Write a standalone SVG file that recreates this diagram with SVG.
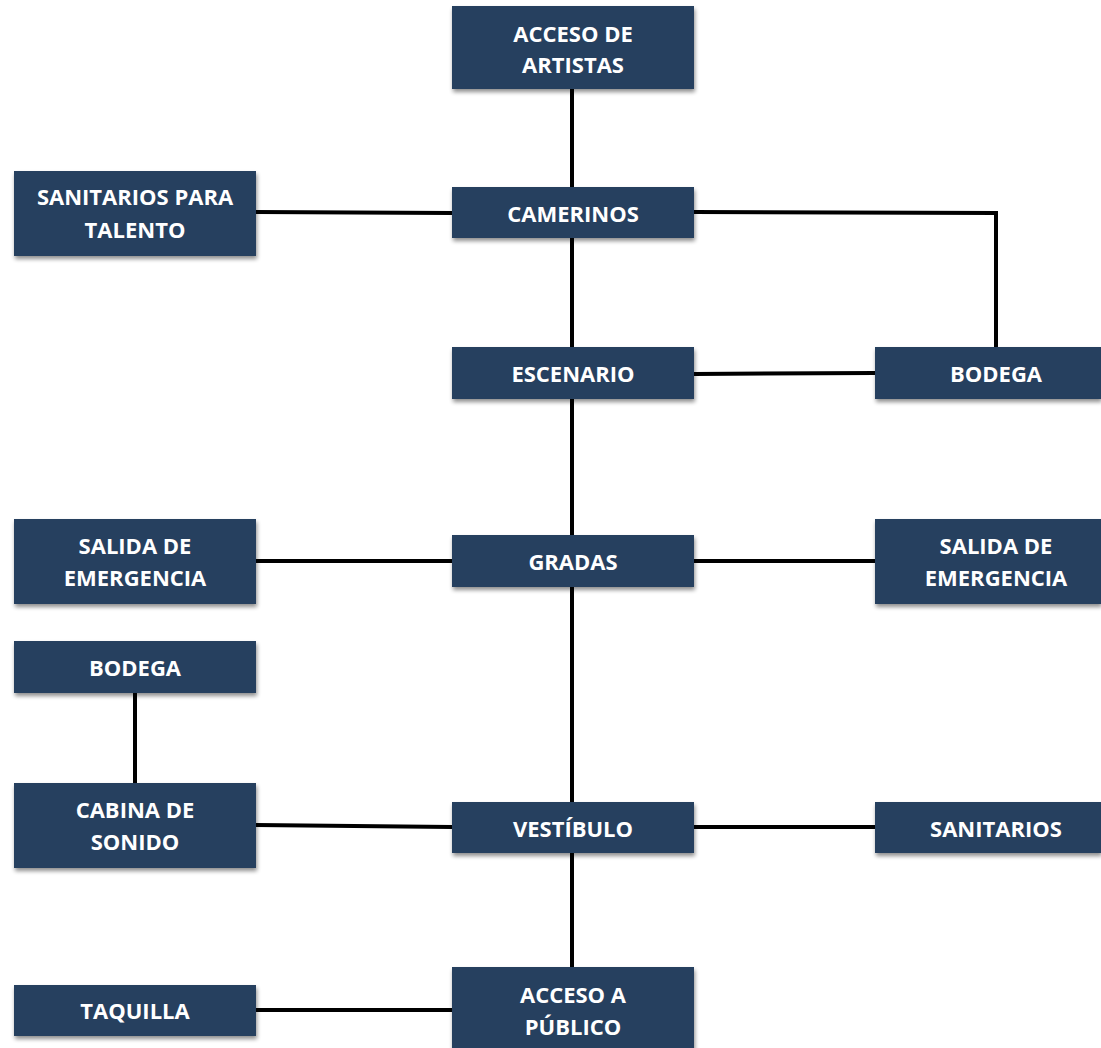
<svg xmlns="http://www.w3.org/2000/svg" width="1101" height="1048" viewBox="0 0 1101 1048">
<defs>
<filter id="sh" x="-10%" y="-20%" width="125%" height="150%">
<feGaussianBlur in="SourceAlpha" stdDeviation="2"/>
<feOffset dx="1" dy="3" result="b"/>
<feComponentTransfer><feFuncA type="linear" slope="0.45"/></feComponentTransfer>
<feMerge><feMergeNode/><feMergeNode in="SourceGraphic"/></feMerge>
</filter>
</defs>
<style>
.box{fill:#253f5f;filter:url(#sh)}
.t{font-family:"Open Sans","Liberation Sans",sans-serif;font-weight:bold;font-size:22px;fill:#ffffff;text-anchor:middle}
.c{stroke:#000;stroke-width:4;fill:none}
</style>
<rect width="1101" height="1048" fill="#fff"/>
<g id="connectors">
<line class="c" x1="572" y1="89" x2="572" y2="187"/>
<line class="c" x1="572" y1="238" x2="572" y2="347"/>
<line class="c" x1="572" y1="399" x2="572" y2="535"/>
<line class="c" x1="572" y1="587" x2="572" y2="802"/>
<line class="c" x1="572" y1="853" x2="572" y2="967"/>
<line class="c" x1="256" y1="212" x2="452" y2="213"/>
<polyline class="c" points="694,212 996,213 996,347"/>
<line class="c" x1="694" y1="374" x2="875" y2="373"/>
<line class="c" x1="256" y1="561" x2="452" y2="561"/>
<line class="c" x1="694" y1="561" x2="875" y2="561"/>
<line class="c" x1="135" y1="693" x2="135" y2="783"/>
<line class="c" x1="256" y1="825" x2="452" y2="827"/>
<line class="c" x1="694" y1="827" x2="875" y2="827"/>
<line class="c" x1="256" y1="1010" x2="452" y2="1010"/>
</g>
<g id="acceso-artistas"><rect class="box" x="452" y="6" width="242" height="83"/><text class="t" x="573" y="42">ACCESO DE</text><text class="t" x="573" y="73">ARTISTAS</text></g>
<g id="camerinos"><rect class="box" x="452" y="187" width="242" height="51"/><text class="t" x="573" y="222">CAMERINOS</text></g>
<g id="sanitarios-talento"><rect class="box" x="14" y="171" width="242" height="85"/><text class="t" x="135" y="205">SANITARIOS PARA</text><text class="t" x="135" y="238">TALENTO</text></g>
<g id="escenario"><rect class="box" x="452" y="347" width="242" height="52"/><text class="t" x="573" y="382">ESCENARIO</text></g>
<g id="bodega-1"><rect class="box" x="875" y="347" width="226" height="52"/><text class="t" x="996" y="382">BODEGA</text></g>
<g id="gradas"><rect class="box" x="452" y="535" width="242" height="52"/><text class="t" x="573" y="570">GRADAS</text></g>
<g id="salida-izq"><rect class="box" x="14" y="519" width="242" height="85"/><text class="t" x="135" y="554">SALIDA DE</text><text class="t" x="135" y="586">EMERGENCIA</text></g>
<g id="salida-der"><rect class="box" x="875" y="519" width="226" height="85"/><text class="t" x="996" y="554">SALIDA DE</text><text class="t" x="996" y="586">EMERGENCIA</text></g>
<g id="bodega-2"><rect class="box" x="14" y="641" width="242" height="52"/><text class="t" x="135" y="676">BODEGA</text></g>
<g id="cabina"><rect class="box" x="14" y="783" width="242" height="85"/><text class="t" x="135" y="818">CABINA DE</text><text class="t" x="135" y="850">SONIDO</text></g>
<g id="vestibulo"><rect class="box" x="452" y="802" width="242" height="51"/><text class="t" x="573" y="837">VESTÍBULO</text></g>
<g id="sanitarios"><rect class="box" x="875" y="802" width="226" height="51"/><text class="t" x="996" y="837">SANITARIOS</text></g>
<g id="taquilla"><rect class="box" x="14" y="985" width="242" height="51"/><text class="t" x="135" y="1019">TAQUILLA</text></g>
<g id="acceso-publico"><rect class="box" x="452" y="967" width="242" height="85"/><text class="t" x="573" y="1003">ACCESO A</text><text class="t" x="573" y="1035">PÚBLICO</text></g>
</svg>
